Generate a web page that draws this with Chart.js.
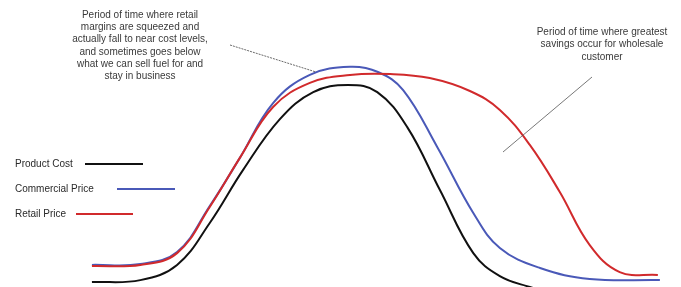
<!DOCTYPE html>
<html>
<head>
<meta charset="utf-8">
<script src="https://cdn.jsdelivr.net/npm/chart.js@4/dist/chart.umd.min.js"></script>
<style>
html,body{margin:0;padding:0;background:#fff;}
#wrap{position:relative;width:681px;height:287px;}
</style>
</head>
<body>
<div id="wrap"><canvas id="c" width="681" height="287"></canvas></div>
<script>
// time (0-100, arbitrary units) and price (0-100, arbitrary units)
const productCostT = [13.5,20.6,26.0,30.8,35.7,41.1,46.0,51.1,55.4,59.8,64.6,69.5,73.4,77.8,82.2];
const productCostP = [1.7,2.4,7.7,22.3,40.8,58.5,67.9,70.4,67.9,55.7,33.8,11.8,3.8,0,-2.8];

const commercialT = [13.5,20.6,26.0,30.8,35.2,40.1,45.5,51.4,55.5,59.2,64.2,69.5,73.4,79.3,86.6,96.9];
const commercialP = [7.7,8.0,12.2,28.2,44.9,64.1,73.9,76.7,74.9,68.6,48.8,25.8,13.6,6.6,2.8,2.4];

const retailT = [13.5,20.6,26.0,30.8,35.2,40.1,45.5,51.4,57.3,63.1,69.0,73.4,77.8,82.2,86.6,91.0,96.6];
const retailP = [7.3,7.7,11.8,27.9,44.9,62.7,71.1,73.9,74.2,72.8,68.3,61.7,49.5,33.1,14.6,5.2,4.2];

const seriesLabels = ["Product Cost","Commercial Price","Retail Price"];
const seriesColors = ["#111111","#4a59b8","#d12a2c"];

const noteLeft = ["Period of time where retail","margins are squeezed and","actually fall to near cost levels,","and sometimes goes below","what we can sell fuel for and","stay in business"];
const noteRight = ["Period of time where greatest","savings occur for wholesale","customer"];

function pts(t,p){return t.map((x,i)=>({x:x,y:p[i]}));}

const overlay = {
  id:'overlay',
  afterDraw(chart){
    const ctx = chart.ctx;
    ctx.save();
    ctx.font = '10px "Liberation Sans", Arial, sans-serif';
    ctx.textBaseline = 'middle';
    ctx.textAlign = 'left';
    const legY = [164,189,214];
    const legLine = [[85,143],[117,175],[76,133]];
    [0,1,2].forEach((i,k)=>{
      ctx.fillStyle = '#2a2a2a';
      ctx.fillText(seriesLabels[i],15,legY[k]);
      ctx.strokeStyle = seriesColors[i];
      ctx.lineWidth = 2;
      ctx.beginPath();
      ctx.moveTo(legLine[k][0],legY[k]);
      ctx.lineTo(legLine[k][1],legY[k]);
      ctx.stroke();
    });
    ctx.fillStyle = '#3a3a3a';
    ctx.textAlign = 'center';
    noteLeft.forEach((s,i)=>ctx.fillText(s,140,15+i*12.3));
    noteRight.forEach((s,i)=>ctx.fillText(s,602,32+i*12.5));
    ctx.strokeStyle = '#444';
    ctx.lineWidth = 0.8;
    ctx.setLineDash([2,1]);
    ctx.beginPath();
    ctx.moveTo(230,45);
    ctx.lineTo(316,72);
    ctx.stroke();
    ctx.setLineDash([]);
    ctx.strokeStyle = '#555';
    ctx.beginPath();
    ctx.moveTo(503,152);
    ctx.lineTo(592,77);
    ctx.stroke();
    ctx.restore();
  }
};

const common = {borderWidth:2,pointRadius:0,tension:0.4,fill:false};
new Chart(document.getElementById('c'),{
  type:'line',
  data:{
    datasets:[
      Object.assign({label:seriesLabels[0],data:pts(productCostT,productCostP),borderColor:seriesColors[0],order:3},common),
      Object.assign({label:seriesLabels[1],data:pts(commercialT,commercialP),borderColor:seriesColors[1],order:2},common),
      Object.assign({label:seriesLabels[2],data:pts(retailT,retailP),borderColor:seriesColors[2],order:1},common)
    ]
  },
  options:{
    responsive:false,
    animation:false,
    layout:{padding:0},
    plugins:{legend:{display:false},tooltip:{enabled:false}},
    scales:{
      x:{type:'linear',min:0,max:100,display:false},
      y:{type:'linear',min:0,max:100,display:false}
    }
  },
  plugins:[overlay]
});
</script>
</body>
</html>
